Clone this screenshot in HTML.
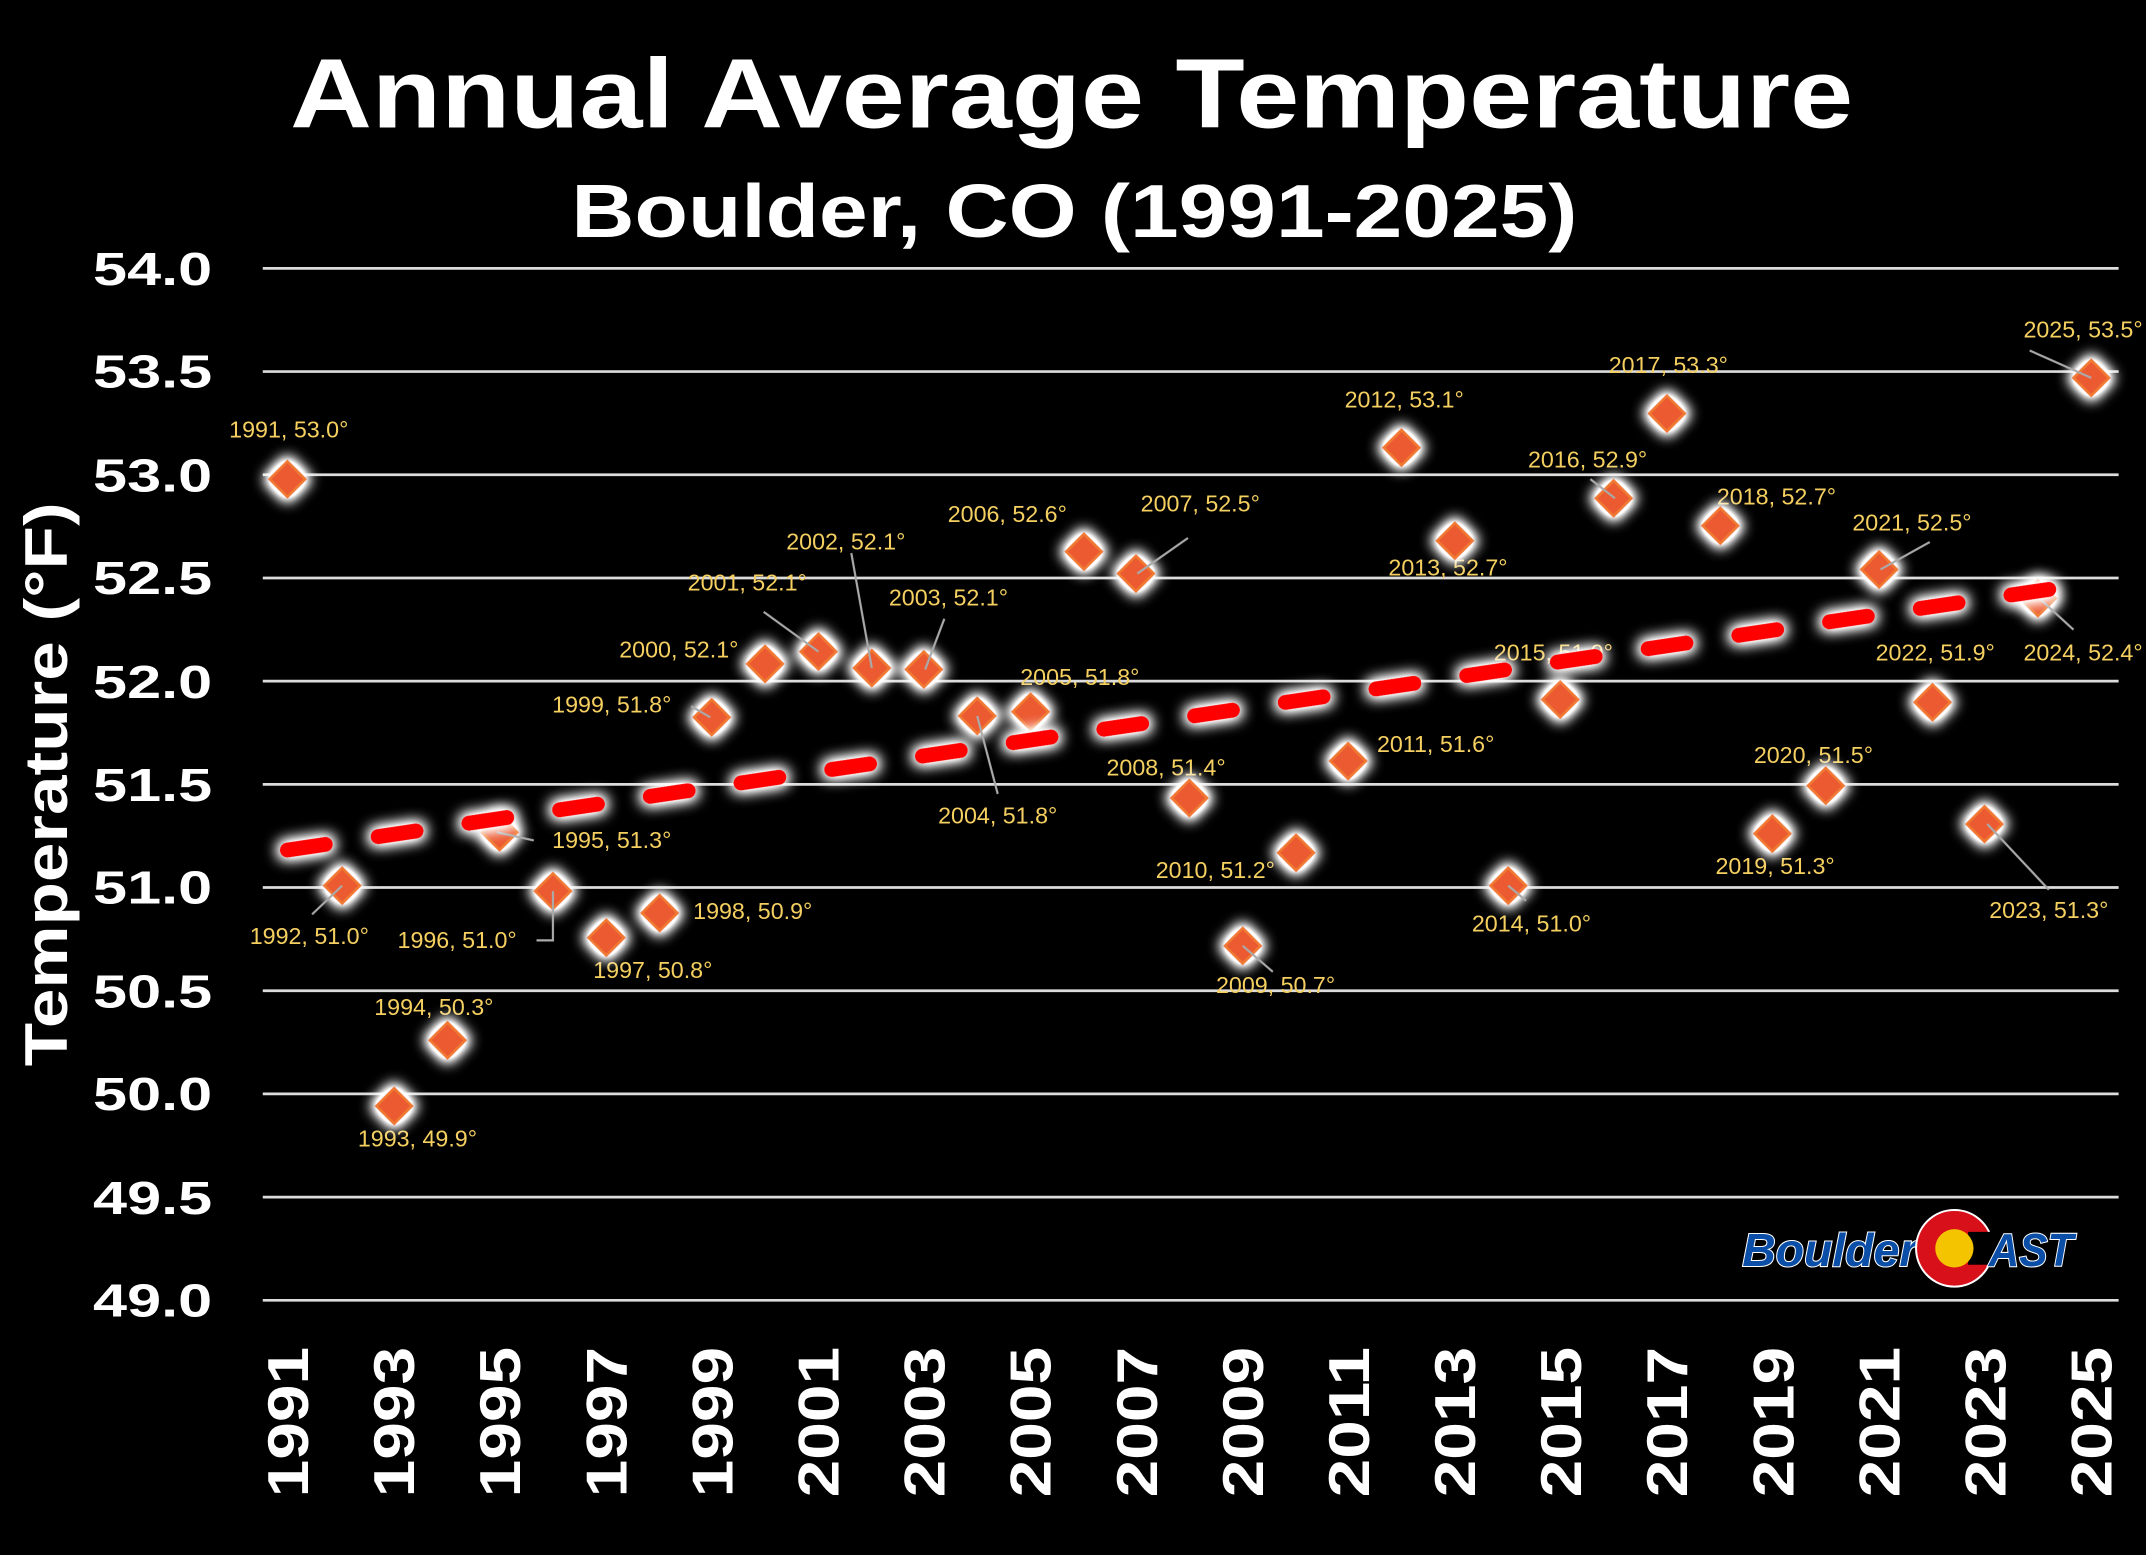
<!DOCTYPE html>
<html><head><meta charset="utf-8"><style>
html,body{margin:0;padding:0;background:#000;}
svg{display:block;}
</style></head><body>
<svg xmlns="http://www.w3.org/2000/svg" width="2146" height="1555" viewBox="0 0 1568 1136">
<defs>
<filter id="glow" x="-100%" y="-100%" width="300%" height="300%">
<feMorphology in="SourceAlpha" operator="dilate" radius="2" result="d"/>
<feGaussianBlur in="d" stdDeviation="5" result="b"/>
<feFlood flood-color="#ffffff"/>
<feComposite in2="b" operator="in" result="g"/>
<feComponentTransfer in="g" result="g2"><feFuncA type="linear" slope="1.8"/></feComponentTransfer>
<feMerge><feMergeNode in="g2"/><feMergeNode in="SourceGraphic"/></feMerge>
</filter>
<filter id="glow2" x="-20%" y="-200%" width="140%" height="500%">
<feMorphology in="SourceAlpha" operator="dilate" radius="2" result="d"/>
<feGaussianBlur in="d" stdDeviation="5" result="b"/>
<feFlood flood-color="#ffffff"/>
<feComposite in2="b" operator="in" result="g"/>
<feComponentTransfer in="g" result="g2"><feFuncA type="linear" slope="1.5"/></feComponentTransfer>
<feMerge><feMergeNode in="g2"/><feMergeNode in="SourceGraphic"/></feMerge>
</filter>
<g id="m"><path d="M0,-13 L13,0 L0,13 L-13,0 Z" fill="#ec5a30" stroke="#f07a30" stroke-width="2"/></g>
</defs>
<rect width="1568" height="1136" fill="#000"/>
<g font-family="'Liberation Sans', sans-serif" fill="#fff" font-weight="bold">
<text x="783" y="93" font-size="72" text-anchor="middle" textLength="1142" lengthAdjust="spacingAndGlyphs">Annual Average Temperature</text>
<text x="785" y="173" font-size="55" text-anchor="middle" textLength="735" lengthAdjust="spacingAndGlyphs">Boulder, CO (1991-2025)</text>
</g>
<g stroke="#dcdcdc" stroke-width="2">
<line x1="192" y1="196" x2="1548" y2="196"/><line x1="192" y1="271.4" x2="1548" y2="271.4"/>
<line x1="192" y1="346.8" x2="1548" y2="346.8"/><line x1="192" y1="422.2" x2="1548" y2="422.2"/>
<line x1="192" y1="497.6" x2="1548" y2="497.6"/><line x1="192" y1="573" x2="1548" y2="573"/>
<line x1="192" y1="648.4" x2="1548" y2="648.4"/><line x1="192" y1="723.8" x2="1548" y2="723.8"/>
<line x1="192" y1="799.2" x2="1548" y2="799.2"/><line x1="192" y1="874.6" x2="1548" y2="874.6"/>
<line x1="192" y1="950" x2="1548" y2="950"/>
</g>
<g font-family="'Liberation Sans', sans-serif" fill="#fff" font-weight="bold" font-size="34" text-anchor="end">
<text x="155" y="208" textLength="87" lengthAdjust="spacingAndGlyphs">54.0</text>
<text x="155" y="283" textLength="87" lengthAdjust="spacingAndGlyphs">53.5</text>
<text x="155" y="359" textLength="87" lengthAdjust="spacingAndGlyphs">53.0</text>
<text x="155" y="434" textLength="87" lengthAdjust="spacingAndGlyphs">52.5</text>
<text x="155" y="510" textLength="87" lengthAdjust="spacingAndGlyphs">52.0</text>
<text x="155" y="585" textLength="87" lengthAdjust="spacingAndGlyphs">51.5</text>
<text x="155" y="660" textLength="87" lengthAdjust="spacingAndGlyphs">51.0</text>
<text x="155" y="736" textLength="87" lengthAdjust="spacingAndGlyphs">50.5</text>
<text x="155" y="811" textLength="87" lengthAdjust="spacingAndGlyphs">50.0</text>
<text x="155" y="887" textLength="87" lengthAdjust="spacingAndGlyphs">49.5</text>
<text x="155" y="962" textLength="87" lengthAdjust="spacingAndGlyphs">49.0</text>
</g>
<text transform="translate(49,573) rotate(-90)" font-family="'Liberation Sans', sans-serif" fill="#fff" font-weight="bold" font-size="44" text-anchor="middle" textLength="412" lengthAdjust="spacingAndGlyphs">Temperature (°F)</text>
<g font-family="'Liberation Sans', sans-serif" fill="#fff" font-weight="bold" font-size="42" text-anchor="end">
<text transform="translate(225,984) rotate(-90)" textLength="110" lengthAdjust="spacingAndGlyphs">1991</text>
<text transform="translate(302.5,984) rotate(-90)" textLength="110" lengthAdjust="spacingAndGlyphs">1993</text>
<text transform="translate(380,984) rotate(-90)" textLength="110" lengthAdjust="spacingAndGlyphs">1995</text>
<text transform="translate(457.6,984) rotate(-90)" textLength="110" lengthAdjust="spacingAndGlyphs">1997</text>
<text transform="translate(535.1,984) rotate(-90)" textLength="110" lengthAdjust="spacingAndGlyphs">1999</text>
<text transform="translate(612.6,984) rotate(-90)" textLength="110" lengthAdjust="spacingAndGlyphs">2001</text>
<text transform="translate(690.1,984) rotate(-90)" textLength="110" lengthAdjust="spacingAndGlyphs">2003</text>
<text transform="translate(767.6,984) rotate(-90)" textLength="110" lengthAdjust="spacingAndGlyphs">2005</text>
<text transform="translate(845.2,984) rotate(-90)" textLength="110" lengthAdjust="spacingAndGlyphs">2007</text>
<text transform="translate(922.7,984) rotate(-90)" textLength="110" lengthAdjust="spacingAndGlyphs">2009</text>
<text transform="translate(1000.2,984) rotate(-90)" textLength="110" lengthAdjust="spacingAndGlyphs">2011</text>
<text transform="translate(1077.7,984) rotate(-90)" textLength="110" lengthAdjust="spacingAndGlyphs">2013</text>
<text transform="translate(1155.2,984) rotate(-90)" textLength="110" lengthAdjust="spacingAndGlyphs">2015</text>
<text transform="translate(1232.8,984) rotate(-90)" textLength="110" lengthAdjust="spacingAndGlyphs">2017</text>
<text transform="translate(1310.3,984) rotate(-90)" textLength="110" lengthAdjust="spacingAndGlyphs">2019</text>
<text transform="translate(1387.8,984) rotate(-90)" textLength="110" lengthAdjust="spacingAndGlyphs">2021</text>
<text transform="translate(1465.3,984) rotate(-90)" textLength="110" lengthAdjust="spacingAndGlyphs">2023</text>
<text transform="translate(1542.8,984) rotate(-90)" textLength="110" lengthAdjust="spacingAndGlyphs">2025</text>
</g>
<g font-family="'Liberation Sans', sans-serif" fill="#f5d060" font-size="17" text-anchor="middle" dominant-baseline="middle">
<text x="211" y="315">1991, 53.0°</text><text x="226" y="685">1992, 51.0°</text>
<text x="305" y="833">1993, 49.9°</text><text x="317" y="737">1994, 50.3°</text>
<text x="447" y="615">1995, 51.3°</text><text x="334" y="688">1996, 51.0°</text>
<text x="477" y="710">1997, 50.8°</text><text x="550" y="667">1998, 50.9°</text>
<text x="447" y="516">1999, 51.8°</text><text x="496" y="476">2000, 52.1°</text>
<text x="546" y="427">2001, 52.1°</text><text x="618" y="397">2002, 52.1°</text>
<text x="693" y="438">2003, 52.1°</text><text x="729" y="597">2004, 51.8°</text>
<text x="789" y="496">2005, 51.8°</text><text x="736" y="377">2006, 52.6°</text>
<text x="877" y="369">2007, 52.5°</text><text x="852" y="562">2008, 51.4°</text>
<text x="932" y="721">2009, 50.7°</text><text x="888" y="637">2010, 51.2°</text>
<text x="1049" y="545">2011, 51.6°</text><text x="1026" y="293">2012, 53.1°</text>
<text x="1058" y="416">2013, 52.7°</text><text x="1119" y="676">2014, 51.0°</text>
<text x="1135" y="478">2015, 51.9°</text><text x="1160" y="337">2016, 52.9°</text>
<text x="1219" y="268">2017, 53.3°</text><text x="1298" y="364">2018, 52.7°</text>
<text x="1297" y="634">2019, 51.3°</text><text x="1325" y="553">2020, 51.5°</text>
<text x="1397" y="383">2021, 52.5°</text><text x="1414" y="478">2022, 51.9°</text>
<text x="1497" y="666">2023, 51.3°</text><text x="1522" y="478">2024, 52.4°</text>
<text x="1522" y="242">2025, 53.5°</text>
</g>
<g filter="url(#glow)">
<use href="#m" x="210" y="350"/><use href="#m" x="250" y="647"/><use href="#m" x="288" y="808"/>
<use href="#m" x="327" y="760"/><use href="#m" x="365" y="608"/><use href="#m" x="404" y="651"/>
<use href="#m" x="443" y="685"/><use href="#m" x="482" y="667"/><use href="#m" x="520" y="524"/>
<use href="#m" x="559" y="485"/><use href="#m" x="598" y="476"/><use href="#m" x="637" y="488"/>
<use href="#m" x="675" y="489"/><use href="#m" x="714" y="523"/><use href="#m" x="753" y="520"/>
<use href="#m" x="792" y="403"/><use href="#m" x="830" y="419"/><use href="#m" x="869" y="583"/>
<use href="#m" x="908" y="691"/><use href="#m" x="947" y="623"/><use href="#m" x="985" y="556"/>
<use href="#m" x="1024" y="327"/><use href="#m" x="1063" y="395"/><use href="#m" x="1102" y="647"/>
<use href="#m" x="1140" y="511"/><use href="#m" x="1179" y="364"/><use href="#m" x="1218" y="302"/>
<use href="#m" x="1257" y="384"/><use href="#m" x="1295" y="609"/><use href="#m" x="1334" y="574"/>
<use href="#m" x="1373" y="416"/><use href="#m" x="1412" y="513"/><use href="#m" x="1450" y="602"/>
<use href="#m" x="1489" y="437"/><use href="#m" x="1528" y="276"/>
</g>
<g stroke="#aaa" stroke-width="1.6" fill="none">
<line x1="250" y1="647" x2="228" y2="668"/><line x1="363" y1="608" x2="390" y2="614"/>
<polyline points="404,651 404,687 392,687"/><line x1="519" y1="524" x2="505" y2="516"/>
<line x1="598" y1="476" x2="558" y2="447"/><line x1="637" y1="488" x2="622" y2="404"/>
<line x1="676" y1="489" x2="690" y2="452"/><line x1="714" y1="523" x2="729" y2="580"/>
<line x1="831" y1="419" x2="868" y2="393"/><line x1="908" y1="691" x2="930" y2="710"/>
<line x1="1180" y1="364" x2="1162" y2="350"/><line x1="1374" y1="416" x2="1410" y2="396"/>
<line x1="1452" y1="602" x2="1497" y2="650"/><line x1="1490" y1="437" x2="1515" y2="460"/>
<line x1="1528" y1="276" x2="1483" y2="256"/><line x1="1102" y1="647" x2="1115" y2="658"/>
</g>
<line x1="210" y1="621" x2="1521" y2="427" stroke="#ff0000" stroke-width="11" stroke-linecap="round" stroke-dasharray="28 39" filter="url(#glow2)"/>
<g font-family="'Liberation Sans', sans-serif" font-weight="bold" font-style="italic" font-size="34">
<text x="1273" y="925" fill="#0a4ea8" stroke="#fff" stroke-width="1.5" paint-order="stroke" textLength="128" lengthAdjust="spacingAndGlyphs">Boulder</text>
<circle cx="1428" cy="912" r="28" fill="#d8101a" stroke="#fff" stroke-width="1.5"/>
<rect x="1438" y="900" width="24" height="24" fill="#000"/>
<circle cx="1428" cy="912" r="14" fill="#f5c400"/>
<text x="1453" y="925" fill="#0a4ea8" stroke="#fff" stroke-width="1.5" paint-order="stroke" textLength="62" lengthAdjust="spacingAndGlyphs">AST</text>
</g>
</svg>
</body></html>
